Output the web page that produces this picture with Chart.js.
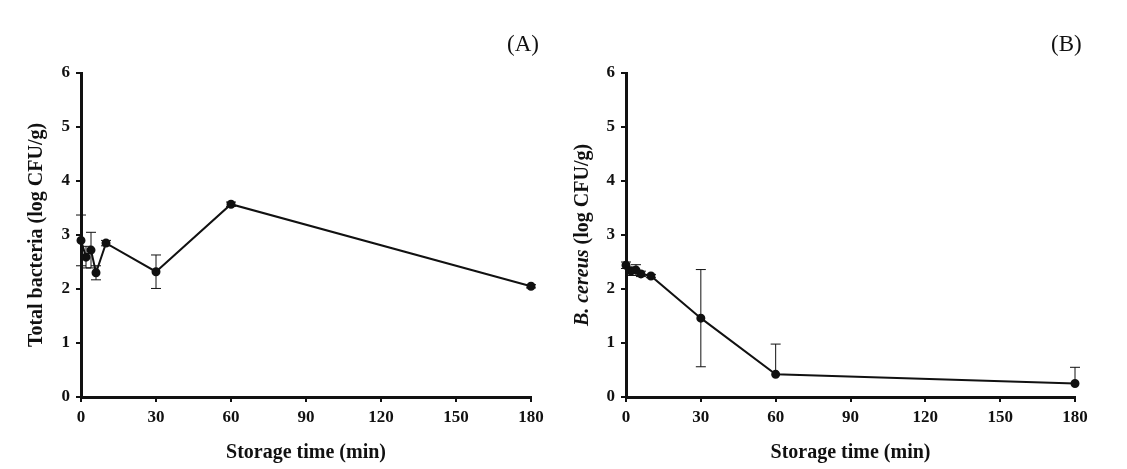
<!DOCTYPE html>
<html>
<head>
<meta charset="utf-8">
<script src="https://cdn.jsdelivr.net/npm/chart.js@4.4.1/dist/chart.umd.min.js"></script>
<style>
  html, body { margin: 0; padding: 0; background: #fff; }
  body { width: 1127px; height: 469px; position: relative; overflow: hidden; }
  .panel { position: absolute; top: 0; height: 469px; }
  .lbl { position: absolute; top: 31px; font-family: "Liberation Serif", "Times New Roman", serif; font-size: 23px; color: #111; }
</style>
</head>
<body>
<div class="panel" style="left:0;width:563px"><canvas id="cA" width="563" height="469"></canvas></div>
<div class="panel" style="left:563px;width:564px"><canvas id="cB" width="564" height="469"></canvas></div>
<div class="lbl" style="left:507px">(A)</div>
<div class="lbl" style="left:1051px">(B)</div>
<script>
// ---- data ----
const times = [0, 2, 4, 6, 10, 30, 60, 180];
const xTicks = [0, 30, 60, 90, 120, 150, 180];
const yTicks = [0, 1, 2, 3, 4, 5, 6];

const totalBacteria = [2.90, 2.59, 2.72, 2.30, 2.85, 2.32, 3.57, 2.05];
const totalErrPlus  = [0.47, 0.20, 0.33, 0.13, 0.05, 0.31, 0.04, 0.03];
const totalErrMinus = [0.47, 0.20, 0.33, 0.13, 0.05, 0.31, 0.04, 0.03];

const bCereus       = [2.44, 2.33, 2.35, 2.28, 2.24, 1.46, 0.42, 0.25];
const bcErrPlus     = [0.06, 0.08, 0.10, 0.05, 0.03, 0.90, 0.56, 0.30];
const bcErrMinus    = [0.06, 0.08, 0.10, 0.05, 0.03, 0.90, 0.00, 0.00];

const xTitle = "Storage time (min)";
const yTitleA = [{ text: "Total bacteria (log CFU/g)", italic: false }];
const yTitleB = [{ text: "B. cereus", italic: true }, { text: " (log CFU/g)", italic: false }];

const SERIF = '"Liberation Serif", "Times New Roman", serif';

const errorBarPlugin = {
  id: 'errorBars',
  afterDatasetsDraw(chart, args, opts) {
    const ctx = chart.ctx;
    const xs = chart.scales.x, ys = chart.scales.y;
    const ds = chart.data.datasets[0];
    ctx.save();
    ctx.strokeStyle = '#111';
    ctx.lineWidth = 1;
    ds.data.forEach((p, i) => {
      const px = xs.getPixelForValue(p.x);
      const top = ys.getPixelForValue(p.y + opts.plus[i]);
      const bot = ys.getPixelForValue(p.y - opts.minus[i]);
      const mid = ys.getPixelForValue(p.y);
      ctx.beginPath();
      if (opts.plus[i] > 0) {
        ctx.moveTo(px, mid); ctx.lineTo(px, top);
        ctx.moveTo(px - 5, top); ctx.lineTo(px + 5, top);
      }
      if (opts.minus[i] > 0) {
        ctx.moveTo(px, mid); ctx.lineTo(px, bot);
        ctx.moveTo(px - 5, bot); ctx.lineTo(px + 5, bot);
      }
      ctx.stroke();
    });
    ctx.restore();
  }
};

const titlesPlugin = {
  id: 'axisTitles',
  afterDraw(chart, args, opts) {
    const ctx = chart.ctx;
    const ca = chart.chartArea;
    ctx.save();
    ctx.fillStyle = '#111';
    // x title
    ctx.font = 'bold 20px ' + SERIF;
    ctx.textAlign = 'center';
    ctx.textBaseline = 'middle';
    ctx.fillText(opts.xTitle, (ca.left + ca.right) / 2, 453);
    // y title (rotated, mixed italic)
    const parts = opts.yTitle;
    const fonts = parts.map(p => (p.italic ? 'italic bold 20px ' : 'bold 20px ') + SERIF);
    let total = 0;
    const widths = parts.map((p, i) => { ctx.font = fonts[i]; const w = ctx.measureText(p.text).width; total += w; return w; });
    ctx.translate(opts.yTitleX, (ca.top + ca.bottom) / 2);
    ctx.rotate(-Math.PI / 2);
    ctx.textAlign = 'left';
    let x = -total / 2;
    parts.forEach((p, i) => { ctx.font = fonts[i]; ctx.fillText(p.text, x, 0); x += widths[i]; });
    ctx.restore();
  }
};

function makeChart(id, values, plus, minus, yAxisWidth, rightPad, yTitle, yTitleX) {
  const pts = times.map((t, i) => ({ x: t, y: values[i] }));
  return new Chart(document.getElementById(id), {
    type: 'scatter',
    data: {
      datasets: [{
        data: pts,
        showLine: true,
        borderColor: '#111',
        borderWidth: 2,
        backgroundColor: '#111',
        pointRadius: 3.5,
        pointBackgroundColor: '#111',
        pointBorderColor: '#111',
        tension: 0,
        clip: false
      }]
    },
    options: {
      responsive: false,
      animation: false,
      layout: { padding: { top: 73, right: rightPad, left: 0, bottom: 0 } },
      plugins: {
        legend: { display: false },
        tooltip: { enabled: false },
        errorBars: { plus: plus, minus: minus },
        axisTitles: { xTitle: xTitle, yTitle: yTitle, yTitleX: yTitleX }
      },
      scales: {
        x: {
          type: 'linear',
          min: 0, max: 180,
          afterBuildTicks: (s) => { s.ticks = xTicks.map(v => ({ value: v })); },
          afterFit: (s) => { s.height = 72; },
          grid: { drawOnChartArea: false, tickLength: 5, color: '#111', lineWidth: 2 },
          border: { display: true, color: '#111', width: 3 },
          ticks: { color: '#111', padding: 5, font: { family: SERIF, size: 17, weight: 'bold' }, maxRotation: 0 }
        },
        y: {
          type: 'linear',
          min: 0, max: 6,
          afterBuildTicks: (s) => { s.ticks = yTicks.map(v => ({ value: v })); },
          afterFit: (s) => { s.width = yAxisWidth; },
          grid: { drawOnChartArea: false, tickLength: 5, color: '#111', lineWidth: 2 },
          border: { display: true, color: '#111', width: 3 },
          ticks: { color: '#111', padding: 6, font: { family: SERIF, size: 17, weight: 'bold' } }
        }
      }
    },
    plugins: [errorBarPlugin, titlesPlugin]
  });
}

makeChart('cA', totalBacteria, totalErrPlus, totalErrMinus, 81, 32, yTitleA, 37);
makeChart('cB', bCereus, bcErrPlus, bcErrMinus, 63, 52, yTitleB, 20);
</script>
</body>
</html>
